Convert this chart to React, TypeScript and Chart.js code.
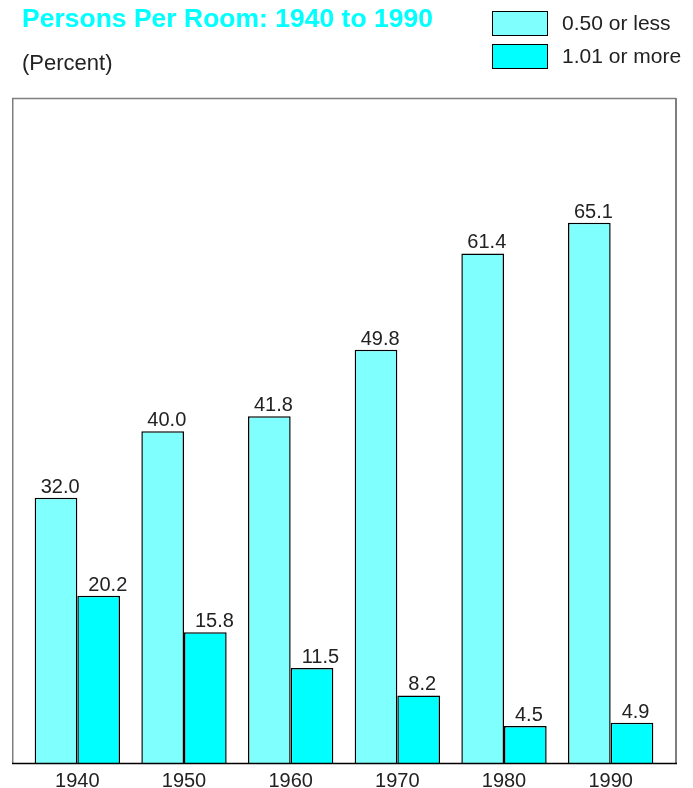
import React, { useEffect, useRef } from "react";
import { Chart, registerables } from "chart.js";

Chart.register(...registerables);

const TITLE = "Persons Per Room: 1940 to 1990";
const SUBTITLE = "(Percent)";
const years = ["1940", "1950", "1960", "1970", "1980", "1990"];
const seriesNames = ["0.50 or less", "1.01 or more"];
const lowOccupancy = [32.0, 40.0, 41.8, 49.8, 61.4, 65.1];
const highOccupancy = [20.2, 15.8, 11.5, 8.2, 4.5, 4.9];
const colors = ["#80FFFF", "#00FFFF"];

const FONT = '"Liberation Sans", Arial, Helvetica, sans-serif';
const TEXT = "#222222";

const decorPlugin = {
  id: "decor",
  beforeDatasetsDraw(chart: any) {
    const ctx = chart.ctx;
    const { chartArea } = chart;
    ctx.save();
    ctx.strokeStyle = "#7f7f7f";
    ctx.lineWidth = 1.5;
    ctx.beginPath();
    ctx.moveTo(12.75, chartArea.bottom);
    ctx.lineTo(12.75, 98.5);
    ctx.lineTo(676, 98.5);
    ctx.stroke();
    ctx.lineWidth = 2;
    ctx.beginPath();
    ctx.moveTo(676, 98);
    ctx.lineTo(676, chartArea.bottom);
    ctx.stroke();
    ctx.restore();
  },
  afterDatasetsDraw(chart: any) {
    const ctx = chart.ctx;
    const { chartArea } = chart;
    ctx.save();
    ctx.strokeStyle = "#000";
    ctx.lineWidth = 1.5;
    ctx.beginPath();
    ctx.moveTo(12, chartArea.bottom);
    ctx.lineTo(677, chartArea.bottom);
    ctx.stroke();

    ctx.fillStyle = TEXT;
    ctx.font = `20px ${FONT}`;
    ctx.textAlign = "left";
    ctx.textBaseline = "alphabetic";
    const offsets = [6, 11];
    chart.data.datasets.forEach((ds: any, di: number) => {
      const meta = chart.getDatasetMeta(di);
      meta.data.forEach((bar: any, i: number) => {
        const v = ds.data[i];
        const left = bar.x - bar.width / 2;
        ctx.fillText(v.toFixed(1), left + offsets[di], bar.y - 5);
      });
    });

    ctx.fillStyle = "#00FFFF";
    ctx.font = `bold 26.5px ${FONT}`;
    ctx.fillText(TITLE, 22, 27);
    ctx.fillStyle = TEXT;
    ctx.font = `22px ${FONT}`;
    ctx.fillText(SUBTITLE, 22, 70);

    chart.data.datasets.forEach((ds: any, di: number) => {
      const y = 11 + di * 33;
      ctx.fillStyle = ds.backgroundColor;
      ctx.fillRect(492, y, 56, 25);
      ctx.strokeStyle = "#000";
      ctx.lineWidth = 1;
      ctx.strokeRect(492.5, y + 0.5, 55, 24);
      ctx.fillStyle = TEXT;
      ctx.font = `21px ${FONT}`;
      ctx.textBaseline = "middle";
      ctx.fillText(ds.label, 562, y + 13);
      ctx.textBaseline = "alphabetic";
    });
    ctx.restore();
  },
};

export default function App() {
  const ref = useRef<HTMLCanvasElement | null>(null);
  useEffect(() => {
    if (!ref.current) return;
    const chart = new Chart(ref.current, {
      type: "bar",
      data: {
        labels: years,
        datasets: [
          {
            label: seriesNames[0],
            data: lowOccupancy,
            backgroundColor: colors[0],
            borderColor: "#000",
            borderWidth: 1.5,
            categoryPercentage: 0.8,
            barPercentage: 1.0,
          },
          {
            label: seriesNames[1],
            data: highOccupancy,
            backgroundColor: colors[1],
            borderColor: "#000",
            borderWidth: 1.5,
            categoryPercentage: 0.8,
            barPercentage: 1.0,
          },
        ],
      },
      options: {
        responsive: false,
        animation: false,
        layout: { padding: { left: 24, right: 29, top: 99, bottom: 0 } },
        plugins: {
          legend: { display: false },
          title: { display: false },
          tooltip: { enabled: false },
        },
        scales: {
          x: {
            grid: { display: false, drawTicks: false },
            border: { display: false },
            ticks: {
              color: TEXT,
              font: { family: FONT, size: 20, lineHeight: 1 },
              padding: 8,
            },
            afterFit: (scale: any) => {
              scale.height = 24.5;
            },
          },
          y: {
            display: false,
            min: 0,
            max: 80,
          },
        },
      },
      plugins: [decorPlugin],
    });
    return () => chart.destroy();
  }, []);
  return (
    <div style={{ position: "absolute", left: 0, top: 0, width: 693, height: 788, background: "#fff" }}>
      <canvas ref={ref} width={693} height={788} style={{ display: "block" }} />
    </div>
  );
}
